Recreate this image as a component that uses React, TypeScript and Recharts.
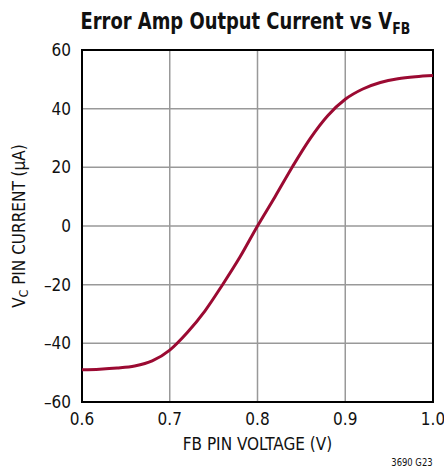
import React from 'react';
import { LineChart, Line, XAxis, YAxis, CartesianGrid, ReferenceArea } from 'recharts';

// FB pin voltage (V) and VC pin current (uA)
const fbVoltage = [0.6, 0.62, 0.64, 0.66, 0.68, 0.7, 0.72, 0.74, 0.76, 0.78, 0.8, 0.82, 0.84, 0.86, 0.88, 0.9, 0.92, 0.94, 0.96, 0.98, 1.0];
const vcCurrent = [-49, -48.8, -48.4, -47.7, -46, -42.3, -36.3, -29, -20.1, -10.6, 0, 10, 20.3, 29.8, 37.6, 43.2, 46.7, 48.9, 50.2, 50.9, 51.3];

const xTicks = [0.6, 0.7, 0.8, 0.9, 1.0];
const yTicks = [-60, -40, -20, 0, 20, 40, 60];

const data = fbVoltage.map((v, i) => ({ v, i: vcCurrent[i] }));

const FONT = "'Liberation Sans Narrow', 'DejaVu Sans Condensed', 'Roboto', sans-serif";
const fmtY = (val: number) => (val < 0 ? `\u2013${Math.abs(val)}` : `${val}`);

const App = () => {
    return (
        <div style={{ position: 'absolute', left: 0, top: 0, width: 444, height: 471, background: '#fff', fontFamily: FONT, color: '#111' }}>
            {/* title */}
            <div style={{ position: 'absolute', left: 23, width: 444, top: 8, textAlign: 'center', whiteSpace: 'nowrap' }}>
                <span style={{ display: 'inline-block', fontSize: 23, fontWeight: 'bold', transform: 'scaleX(0.866)' }}>
                    Error Amp Output Current vs V<sub style={{ fontSize: 16, verticalAlign: -5 }}>FB</sub>
                </span>
            </div>

            <LineChart width={444} height={471} data={data} margin={{ top: 50, right: 11, bottom: 9, left: 0 }}>
                <CartesianGrid stroke="#999" strokeWidth={1.5} />
                <XAxis
                    dataKey="v"
                    type="number"
                    domain={[0.6, 1.0]}
                    ticks={xTicks}
                    tickFormatter={(val: number) => val.toFixed(1)}
                    tickLine={false}
                    axisLine={false}
                    tickMargin={5}
                    height={60}
                    tick={{ fontSize: 17, fill: '#111', fontFamily: FONT }}
                    interval={0}
                />
                <YAxis
                    type="number"
                    domain={[-60, 60]}
                    ticks={yTicks}
                    tickFormatter={fmtY}
                    tickLine={false}
                    axisLine={false}
                    tickMargin={5}
                    width={82}
                    tick={{ fontSize: 17, fill: '#111', fontFamily: FONT }}
                    interval={0}
                />
                <ReferenceArea x1={0.6} x2={1.0} y1={-60} y2={60} fill="none" fillOpacity={0} stroke="#000" strokeWidth={2} />
                <Line type="monotone" dataKey="i" stroke="#9b0a32" strokeWidth={3} dot={false} isAnimationActive={false} />
            </LineChart>

            {/* axis titles */}
            <div style={{ position: 'absolute', left: 82, width: 351, top: 434, textAlign: 'center', fontSize: 17 }}>
                FB PIN VOLTAGE (V)
            </div>
            <div style={{ position: 'absolute', left: 20, top: 226, width: 0, height: 0 }}>
                <div style={{ position: 'absolute', transform: 'translate(-50%, -50%) rotate(-90deg)', whiteSpace: 'nowrap', fontSize: 17 }}>
                    V<sub style={{ fontSize: 12, verticalAlign: -3 }}>C</sub> PIN CURRENT (μA)
                </div>
            </div>
            <div style={{ position: 'absolute', right: 11, top: 456, fontSize: 11, transform: 'scaleX(0.85)', transformOrigin: 'right center' }}>3690 G23</div>
        </div>
    );
};

export default App;
